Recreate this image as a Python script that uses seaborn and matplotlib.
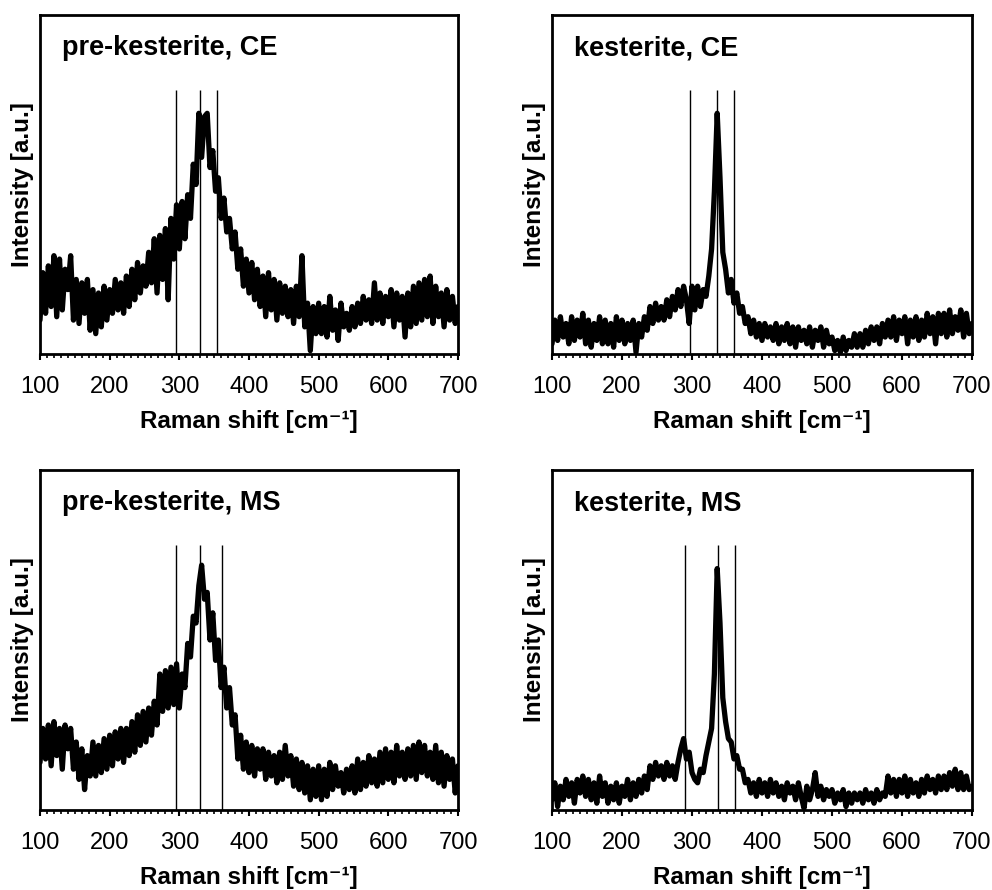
import numpy as np
import pandas as pd
import matplotlib
matplotlib.use("Agg")
import matplotlib.pyplot as plt
from matplotlib.ticker import MultipleLocator
import seaborn as sns

# Raman shift grid (cm^-1), 100..700 in steps of 4
shift = list(range(100, 701, 4))

pre_ce = [
    10, 24, 12, 26, 14, 29, 11, 28, 13, 25,
    19, 29, 10, 22, 9, 21, 12, 22, 7, 19,
    6, 18, 8, 20, 10, 19, 12, 22, 13, 21,
    12, 23, 14, 25, 16, 27, 18, 26, 20, 30,
    21, 34, 18, 35, 22, 37, 16, 40, 28, 44,
    31, 45, 34, 47, 40, 56, 50, 71, 58, 70,
    71, 55, 60, 48, 52, 40, 46, 36, 40, 31,
    36, 25, 31, 20, 28, 18, 27, 16, 25, 14,
    23, 11, 24, 13, 22, 10, 21, 12, 20, 11,
    19, 9, 20, 11, 29, 8, 15, 1, 14, 6,
    15, 6, 14, 5, 17, 7, 13, 4, 15, 8,
    12, 7, 14, 8, 15, 9, 17, 10, 16, 9,
    21, 10, 18, 9, 17, 11, 19, 8, 18, 10,
    17, 5, 18, 8, 20, 9, 21, 10, 22, 11,
    23, 9, 20, 11, 18, 8, 19, 10, 17, 9,
    14,
]
kes_ce = [
    3, 10, 4, 11, 5, 9, 3, 11, 4, 10,
    5, 12, 3, 10, 2, 9, 4, 11, 3, 10,
    3, 9, 2, 11, 4, 10, 3, 9, 4, 10,
    0.5, 9, 5, 11, 7, 14, 9, 15, 10, 14,
    10, 16, 11, 17, 13, 19, 14, 20, 16, 9,
    20, 13, 20, 14, 19, 17, 23, 31, 48, 71,
    52, 30, 25, 18, 22, 15, 18, 12, 14, 9,
    11, 6, 10, 5, 9, 4, 9, 5, 8, 4,
    9, 3, 8, 4, 9, 3, 8, 2, 8, 4,
    7, 3, 8, 2, 7, 4, 8, 2, 7, 3,
    5, 1, 4, 0.5, 5, 1, 4, 2, 6, 2,
    6, 2, 7, 3, 8, 4, 8, 3, 9, 5,
    10, 5, 11, 4, 10, 6, 11, 3, 10, 5,
    11, 4, 10, 5, 12, 6, 11, 3, 12, 6,
    12, 5, 13, 6, 11, 7, 13, 5, 12, 6,
    9,
]
pre_ms = [
    14, 24, 15, 25, 13, 26, 16, 24, 12, 25,
    18, 24, 12, 20, 9, 18, 6, 16, 10, 20,
    10, 19, 11, 21, 12, 22, 13, 23, 15, 24,
    14, 24, 16, 26, 17, 28, 19, 29, 20, 30,
    22, 32, 25, 40, 29, 41, 30, 42, 31, 43,
    30, 40, 36, 49, 45, 57, 55, 66, 72, 62,
    64, 50, 58, 44, 50, 36, 42, 30, 36, 25,
    28, 15, 22, 12, 20, 11, 19, 10, 18, 12,
    18, 9, 17, 10, 16, 8, 17, 9, 19, 10,
    16, 7, 15, 6, 14, 5, 13, 3, 12, 4,
    13, 3, 12, 4, 14, 6, 13, 7, 11, 5,
    12, 6, 13, 5, 15, 6, 14, 7, 16, 8,
    15, 7, 17, 8, 18, 9, 17, 8, 19, 10,
    17, 9, 18, 10, 19, 9, 20, 11, 19, 10,
    17, 9, 19, 8, 17, 7, 16, 9, 15, 5,
    13,
]
kes_ms = [
    3, 8, 1, 7, 3, 9, 4, 8, 2, 9,
    5, 10, 4, 9, 3, 8, 2, 10, 4, 8,
    2, 7, 3, 8, 2, 7, 4, 9, 3, 8,
    4, 9, 5, 10, 6, 13, 9, 14, 10, 13,
    9, 14, 10, 13, 9, 14, 18, 21, 15, 17,
    11, 9, 8, 12, 11, 16, 20, 24, 40, 71,
    55, 33, 26, 21, 20, 15, 16, 12, 12, 8,
    9, 5, 8, 4, 9, 5, 8, 4, 9, 5,
    8, 4, 7, 3, 8, 5, 7, 3, 8, 4,
    0.5, 7, 3, 6, 11, 4, 7, 3, 6, 4,
    6, 2, 5, 3, 6, 1, 5, 2, 5, 3,
    5, 2, 6, 3, 5, 2, 6, 3, 5, 4,
    10, 5, 9, 4, 9, 5, 10, 4, 9, 5,
    8, 4, 9, 5, 10, 6, 9, 5, 10, 6,
    10, 6, 11, 7, 12, 6, 11, 6, 10, 6,
    7,
]

titles = ["pre-kesterite, CE", "kesterite, CE", "pre-kesterite, MS", "kesterite, MS"]
spectra = [pre_ce, kes_ce, pre_ms, kes_ms]
# reference band positions (cm^-1)
bands = [[295, 330, 354], [297, 336, 360], [295, 330, 361], [290, 337, 361]]
xticks = [100, 200, 300, 400, 500, 600, 700]

sns.set_style("ticks")
plt.rcParams["font.family"] = ["Liberation Sans", "DejaVu Sans"]
plt.rcParams["text.color"] = "black"
plt.rcParams["axes.labelcolor"] = "black"
plt.rcParams["xtick.color"] = "black"

W, H = 992, 890
fig = plt.figure(figsize=(W / 100, H / 100), dpi=100)
boxes = [(40, 15, 458, 354), (552, 15, 972, 354), (40, 470, 458, 810), (552, 470, 972, 810)]

for i, (title, y, bl, box) in enumerate(zip(titles, spectra, bands, boxes)):
    l, t, r, b = box
    ax = fig.add_axes([l / W, 1 - b / H, (r - l) / W, (b - t) / H])
    df = pd.DataFrame({"shift": shift, "intensity": y})
    ax.vlines(bl, 0, 78, colors="black", linewidth=1.0, zorder=1)
    sns.lineplot(data=df, x="shift", y="intensity", ax=ax, color="black",
                 linewidth=3.8, zorder=2)
    ax.set_xlim(100, 700)
    ax.set_ylim(0, 100)
    ax.set_xticks(xticks)
    ax.set_xticklabels([str(v) for v in xticks])
    ax.xaxis.set_minor_locator(MultipleLocator(10))
    ax.set_yticks([])
    ax.tick_params(axis="x", which="major", direction="out", length=4.5, width=1.5,
                   labelsize=17, pad=11, colors="black")
    ax.tick_params(axis="x", which="minor", direction="out", length=3, width=1.2)
    for s in ax.spines.values():
        s.set_visible(True)
        s.set_linewidth(2.0)
        s.set_color("black")
    ax.set_xlabel("Raman shift [cm⁻¹]", fontsize=17.5, fontweight="bold", labelpad=9)
    ax.set_ylabel("Intensity [a.u.]", fontsize=17.5, fontweight="bold", labelpad=4)
    ax.text(0.053, 0.94, title, transform=ax.transAxes, fontsize=19.5,
            fontweight="bold", ha="left", va="top")

fig.savefig("out.png", dpi=100)
